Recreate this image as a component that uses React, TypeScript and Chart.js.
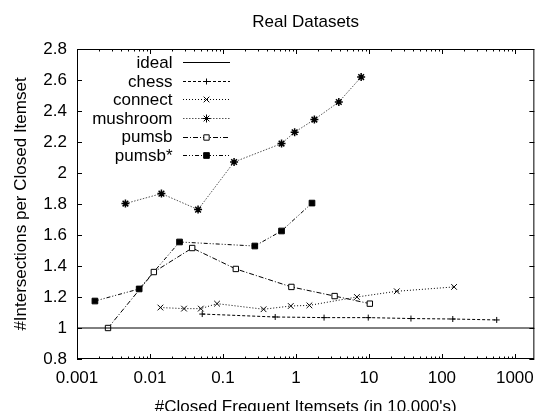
import React, { useEffect, useRef } from 'react';
import { Chart, registerables } from 'chart.js';
import { drawPoint } from 'chart.js/helpers';

Chart.register(...registerables);

const FONT = '"Liberation Sans", Arial, Helvetica, sans-serif';
const FONT_SIZE = 17;

const chartTitle = 'Real Datasets';
const xAxisTitle = "#Closed Frequent Itemsets (in 10,000's)";
const yAxisTitle = '#Intersections per Closed Itemset';

const xTicks = [0.001, 0.01, 0.1, 1, 10, 100, 1000];
const xTickLabels = ['0.001', '0.01', '0.1', '1', '10', '100', '1000'];
const yTicks = [0.8, 1, 1.2, 1.4, 1.6, 1.8, 2, 2.2, 2.4, 2.6, 2.8];
const yTickLabels = ['0.8', '1', '1.2', '1.4', '1.6', '1.8', '2', '2.2', '2.4', '2.6', '2.8'];
const xMin = 0.001;
const xMax = 1850;
const yMin = 0.8;
const yMax = 2.8;

const seriesNames = ['ideal', 'chess', 'connect', 'mushroom', 'pumsb', 'pumsb*'];

const idealX = [0.001, 1850];
const idealY = [1, 1];
const chessX = [0.052, 0.52, 2.43, 9.8, 37.7, 141, 564];
const chessY = [1.09, 1.071, 1.067, 1.067, 1.061, 1.058, 1.052];
const connectX = [0.0139, 0.0293, 0.0497, 0.083, 0.36, 0.85, 1.53, 6.85, 24.1, 147];
const connectY = [1.132, 1.125, 1.125, 1.157, 1.121, 1.142, 1.146, 1.2, 1.237, 1.265];
const mushroomX = [0.00461, 0.01435, 0.0456, 0.142, 0.635, 0.96, 1.79, 3.87, 7.83];
const mushroomY = [1.803, 1.867, 1.764, 2.071, 2.19, 2.263, 2.345, 2.458, 2.619];
const pumsbX = [0.00266, 0.0113, 0.0379, 0.15, 0.867, 3.39, 10.3];
const pumsbY = [1.0, 1.361, 1.516, 1.381, 1.265, 1.206, 1.157];
const pumsbStarX = [0.00176, 0.00711, 0.0254, 0.273, 0.635, 1.66];
const pumsbStarY = [1.174, 1.252, 1.555, 1.529, 1.626, 1.806];

const zip = (xs: number[], ys: number[]) => xs.map((x, i) => ({ x, y: ys[i] }));

const framePlugin = {
  id: 'gnuplotFrame',
  afterDraw(chart: any) {
    const ctx: CanvasRenderingContext2D = chart.ctx;
    const { left, right, top, bottom } = chart.chartArea;
    const xs = chart.scales.x;
    const ys = chart.scales.y;
    ctx.save();
    ctx.strokeStyle = '#000';
    ctx.lineWidth = 1;
    ctx.setLineDash([]);
    ctx.strokeRect(left + 0.5, top + 0.5, right - left - 1, bottom - top - 1);
    ctx.beginPath();
    for (let d = -3; d <= 3; d++) {
      for (let m = 1; m <= 9; m++) {
        const v = m * Math.pow(10, d);
        if (v < xMin || v > xMax) continue;
        const px = Math.round(xs.getPixelForValue(v)) + 0.5;
        const len = m === 1 ? 5 : 2.5;
        ctx.moveTo(px, bottom);
        ctx.lineTo(px, bottom - len);
        ctx.moveTo(px, top);
        ctx.lineTo(px, top + len);
      }
    }
    yTicks.forEach((v) => {
      const py = Math.round(ys.getPixelForValue(v)) + 0.5;
      ctx.moveTo(left, py);
      ctx.lineTo(left + 5, py);
      ctx.moveTo(right, py);
      ctx.lineTo(right - 5, py);
    });
    ctx.stroke();

    ctx.fillStyle = '#000';
    ctx.font = `${FONT_SIZE}px ${FONT}`;
    ctx.textAlign = 'center';
    ctx.textBaseline = 'alphabetic';
    const cx = (left + right) / 2;
    ctx.fillText(chartTitle, cx, 27);
    ctx.fillText(xAxisTitle, cx, 412);
    ctx.save();
    ctx.translate(26, (top + bottom) / 2);
    ctx.rotate(-Math.PI / 2);
    ctx.fillText(yAxisTitle, 0, 0);
    ctx.restore();

    const rowY0 = 62.3;
    const rowGap = 18.55;
    chart.data.datasets.forEach((ds: any, i: number) => {
      const y = rowY0 + i * rowGap;
      ctx.textAlign = 'right';
      ctx.textBaseline = 'middle';
      ctx.fillStyle = '#000';
      ctx.fillText(ds.label, 172.5, y + 1);
      ctx.save();
      ctx.strokeStyle = ds.borderColor;
      ctx.lineWidth = 1;
      ctx.setLineDash(ds.borderDash || []);
      ctx.beginPath();
      ctx.moveTo(183, Math.round(y) + 0.5);
      ctx.lineTo(230, Math.round(y) + 0.5);
      ctx.stroke();
      ctx.restore();
      if (ds.pointRadius > 0) {
        ctx.save();
        ctx.setLineDash([]);
        ctx.strokeStyle = ds.pointBorderColor;
        ctx.fillStyle = ds.pointBackgroundColor;
        ctx.lineWidth = 1;
        drawPoint(ctx, { pointStyle: ds.pointStyle, radius: ds.pointRadius, rotation: 0, borderWidth: 1 }, 206.5, Math.round(y) + 0.5);
        ctx.restore();
      }
    });
    ctx.restore();
  },
};

export default function App() {
  const ref = useRef<HTMLCanvasElement | null>(null);
  useEffect(() => {
    if (!ref.current) return;
    const base = {
      borderColor: '#000',
      borderWidth: 1,
      pointBorderColor: '#000',
      pointBorderWidth: 1,
      showLine: true,
      fill: false,
      tension: 0,
    };
    const chart = new Chart(ref.current, {
      type: 'scatter',
      data: {
        datasets: [
          { ...base, label: seriesNames[0], data: zip(idealX, idealY), pointRadius: 0, borderDash: [], pointStyle: 'circle', pointBackgroundColor: '#000' },
          { ...base, label: seriesNames[1], data: zip(chessX, chessY), pointRadius: 3, pointStyle: 'cross', borderDash: [3, 2], pointBackgroundColor: '#000' },
          { ...base, label: seriesNames[2], data: zip(connectX, connectY), pointRadius: 4, pointStyle: 'crossRot', borderDash: [1, 2], pointBackgroundColor: '#000' },
          { ...base, label: seriesNames[3], data: zip(mushroomX, mushroomY), pointRadius: 4, pointStyle: 'star', pointBorderWidth: 1.5, borderDash: [1.5, 1.5], borderColor: '#555', pointBackgroundColor: '#000' },
          { ...base, label: seriesNames[4], data: zip(pumsbX, pumsbY), pointRadius: 3.8, pointStyle: 'rect', borderDash: [5, 2, 1, 2], pointBackgroundColor: '#fff' },
          { ...base, label: seriesNames[5], data: zip(pumsbStarX, pumsbStarY), pointRadius: 4, pointStyle: 'rect', borderDash: [4, 2, 1, 2, 1, 2], pointBackgroundColor: '#000' },
        ],
      },
      options: {
        animation: false,
        responsive: false,
        devicePixelRatio: 1,
        events: [],
        layout: { padding: { top: 49, right: 1, left: 0, bottom: 0 } },
        plugins: { legend: { display: false }, title: { display: false }, tooltip: { enabled: false } },
        scales: {
          x: {
            type: 'logarithmic',
            min: xMin,
            max: xMax,
            grid: { display: false, drawTicks: false },
            border: { display: false },
            afterBuildTicks: (s: any) => { s.ticks = xTicks.map((v) => ({ value: v })); },
            afterFit: (s: any) => { s.height = 52; },
            ticks: {
              autoSkip: false,
              maxRotation: 0,
              padding: 9,
              color: '#000',
              font: { family: FONT, size: FONT_SIZE },
              callback: (v: any) => { const i = xTicks.indexOf(Number(v)); return i >= 0 ? xTickLabels[i] : ''; },
            },
          },
          y: {
            type: 'linear',
            min: yMin,
            max: yMax,
            grid: { display: false, drawTicks: false },
            border: { display: false },
            afterBuildTicks: (s: any) => { s.ticks = yTicks.map((v) => ({ value: v })); },
            afterFit: (s: any) => { s.width = 77; },
            ticks: {
              autoSkip: false,
              padding: 10,
              color: '#000',
              font: { family: FONT, size: FONT_SIZE },
              callback: (v: any, i: number) => yTickLabels[i],
            },
          },
        },
      },
      plugins: [framePlugin],
    } as any);
    return () => chart.destroy();
  }, []);
  return (
    <div style={{ position: 'fixed', left: 0, top: 0, width: 543, height: 411, background: '#fff' }}>
      <canvas ref={ref} width={543} height={411} style={{ display: 'block' }} />
    </div>
  );
}
